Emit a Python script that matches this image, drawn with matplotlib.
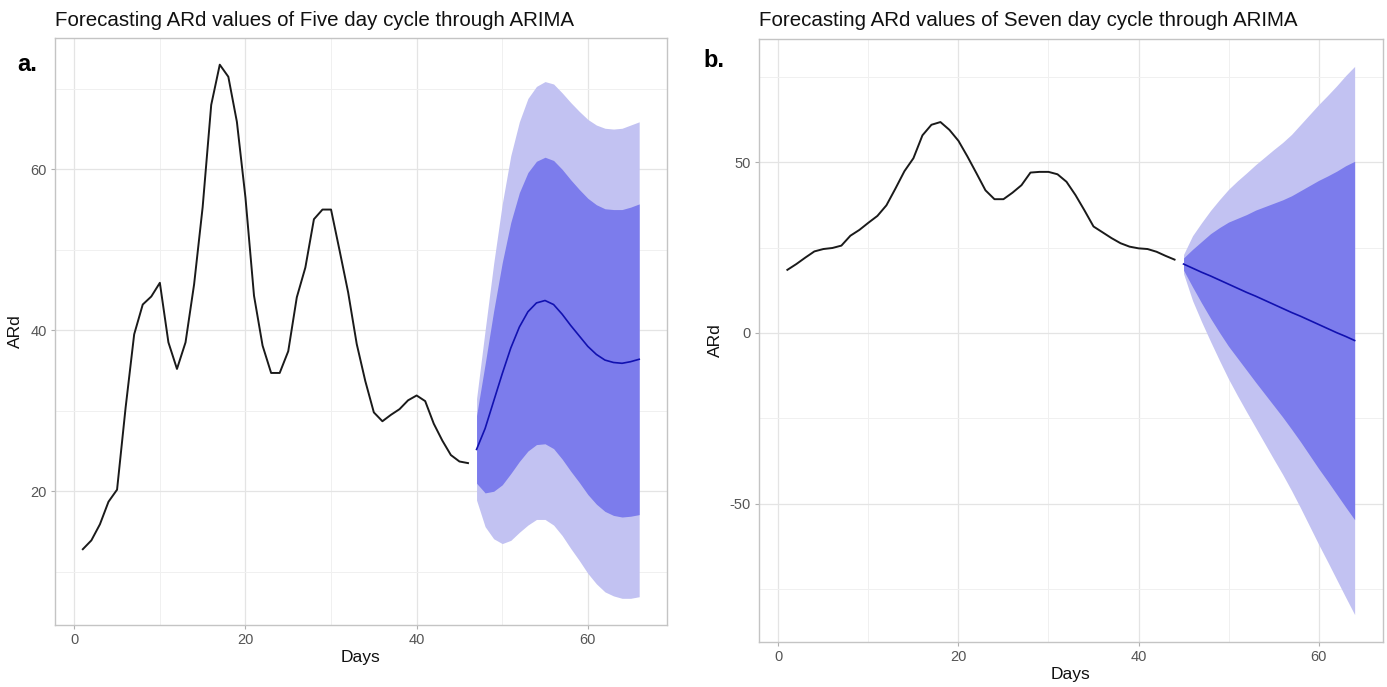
import matplotlib
matplotlib.use("Agg")
import matplotlib.pyplot as plt
from matplotlib.ticker import MultipleLocator

plt.rcParams['font.family'] = ['Liberation Sans', 'DejaVu Sans']
plt.rcParams['axes.unicode_minus'] = False

# ---- panel a: five day cycle ----
days_a = list(range(1, 47))
ard_a = [12.8, 13.9, 15.9, 18.7, 20.2, 30.4, 39.5, 43.2, 44.2, 45.9,
         38.5, 35.2, 38.5, 45.7, 55.3, 68.0, 73.0, 71.5, 65.9, 56.5,
         44.3, 38.1, 34.7, 34.7, 37.4, 44.1, 47.8, 53.8, 55.0, 55.0,
         49.9, 44.7, 38.3, 33.7, 29.8, 28.7, 29.5, 30.2, 31.3, 31.9,
         31.2, 28.4, 26.3, 24.5, 23.7, 23.5]
fc_days_a = list(range(47, 67))
fc_mean_a = [25.2, 27.8, 31.2, 34.6, 37.8, 40.4, 42.3, 43.4, 43.7, 43.2,
             42.0, 40.6, 39.3, 38.0, 37.0, 36.3, 36.0, 35.9, 36.1, 36.4]
hi80_a = [29.4, 35.8, 42.4, 48.4, 53.4, 57.1, 59.6, 61.0, 61.5, 61.1,
          60.0, 58.7, 57.5, 56.4, 55.6, 55.1, 55.0, 55.0, 55.3, 55.7]
lo80_a = [21.0, 19.8, 20.0, 20.8, 22.2, 23.7, 25.0, 25.8, 25.9, 25.3,
          24.0, 22.5, 21.1, 19.6, 18.4, 17.5, 17.0, 16.8, 16.9, 17.1]
hi95_a = [31.5, 40.0, 48.3, 55.7, 61.7, 65.9, 68.8, 70.3, 70.9, 70.6,
          69.5, 68.3, 67.2, 66.2, 65.5, 65.1, 65.0, 65.1, 65.5, 65.9]
lo95_a = [18.9, 15.6, 14.1, 13.5, 13.9, 14.9, 15.8, 16.5, 16.5, 15.8,
          14.5, 12.9, 11.4, 9.8, 8.5, 7.5, 7.0, 6.7, 6.7, 6.9]

# ---- panel b: seven day cycle ----
days_b = list(range(1, 45))
ard_b = [18.5, 20.2, 22.1, 23.9, 24.6, 24.9, 25.6, 28.5, 30.2, 32.3,
         34.3, 37.4, 42.3, 47.4, 51.2, 57.9, 61.0, 61.8, 59.5, 56.3,
         51.7, 46.8, 41.8, 39.2, 39.2, 41.1, 43.3, 47.0, 47.2, 47.2,
         46.5, 44.3, 40.4, 35.9, 31.2, 29.5, 27.8, 26.3, 25.3, 24.8,
         24.6, 23.8, 22.6, 21.5]
fc_days_b = list(range(45, 65))
fc_mean_b = [20.2, 19.0, 17.8, 16.7, 15.5, 14.3, 13.1, 11.9, 10.8, 9.6,
             8.4, 7.2, 6.0, 4.9, 3.7, 2.5, 1.3, 0.1, -1.0, -2.2]
hi80_b = [22.0, 24.5, 26.8, 29.1, 30.9, 32.5, 33.6, 34.7, 36.0, 37.0,
          38.0, 39.0, 40.2, 41.7, 43.2, 44.7, 46.0, 47.4, 49.0, 50.3]
lo80_b = [18.4, 13.5, 8.8, 4.3, 0.1, -3.9, -7.4, -10.9, -14.4, -17.8,
          -21.2, -24.6, -28.2, -31.9, -35.8, -39.7, -43.4, -47.2, -51.0, -54.7]
hi95_b = [23.0, 28.5, 32.3, 35.9, 39.1, 42.1, 44.6, 46.9, 49.3, 51.5,
          53.7, 55.8, 58.2, 61.1, 64.0, 66.9, 69.6, 72.4, 75.4, 78.1]
lo95_b = [17.4, 9.5, 3.3, -2.5, -8.1, -13.5, -18.4, -23.1, -27.7, -32.3,
          -36.9, -41.4, -46.2, -51.3, -56.6, -61.9, -67.0, -72.2, -77.4, -82.5]

W, H = 1387, 687
fig = plt.figure(figsize=(W / 100, H / 100), dpi=100)


def px_rect(left, top, right, bottom):
    return [left / W, 1 - bottom / H, (right - left) / W, (bottom - top) / H]


def draw_panel(ax, days, ard, fdays, fmean, lo80, hi80, lo95, hi95, yticks, ymin_step):
    ax.fill_between(fdays, lo95, hi95, color='#C2C2F2', linewidth=0, zorder=2)
    ax.fill_between(fdays, lo80, hi80, color='#7C7CEC', linewidth=0, zorder=3)
    ax.plot(fdays, fmean, color='#1111B0', linewidth=1.2, zorder=4)
    ax.plot(days, ard, color='#1a1a1a', linewidth=1.4, zorder=4)

    lo = min(min(lo95), min(ard))
    hi = max(max(hi95), max(ard))
    pad = (hi - lo) * 0.05
    ax.set_ylim(lo - pad, hi + pad)
    xlo, xhi = days[0], fdays[-1]
    xpad = (xhi - xlo) * 0.05
    ax.set_xlim(xlo - xpad, xhi + xpad)

    ax.set_xticks([0, 20, 40, 60])
    ax.set_yticks(yticks)
    ax.xaxis.set_minor_locator(MultipleLocator(10))
    ax.yaxis.set_minor_locator(MultipleLocator(ymin_step))
    ax.grid(which='major', color='#E4E4E4', linewidth=0.9, zorder=0)
    ax.grid(which='minor', color='#F0F0F0', linewidth=0.7, zorder=0)
    ax.set_axisbelow(True)
    for s in ax.spines.values():
        s.set_color('#C4C4C4')
        s.set_linewidth(1.0)
    ax.tick_params(which='major', length=3, width=0.8, color='#B0B0B0',
                   labelsize=10.5, labelcolor='#555555', pad=3)
    ax.tick_params(which='minor', length=0)
    ax.set_xlabel('Days', fontsize=12.5, color='#111111', labelpad=2)
    ax.set_ylabel('ARd', fontsize=12.5, color='#111111', labelpad=5)


ax1 = fig.add_axes(px_rect(55, 38, 667, 625))
draw_panel(ax1, days_a, ard_a, fc_days_a, fc_mean_a, lo80_a, hi80_a, lo95_a, hi95_a,
           [20, 40, 60], 10)

ax2 = fig.add_axes(px_rect(759, 39, 1383, 642))
draw_panel(ax2, days_b, ard_b, fc_days_b, fc_mean_b, lo80_b, hi80_b, lo95_b, hi95_b,
           [-50, 0, 50], 25)

fig.text(55 / W, 1 - 26 / H, 'Forecasting ARd values of Five day cycle through ARIMA',
         fontsize=14.8, color='#111111', ha='left', va='baseline')
fig.text(759 / W, 1 - 26 / H, 'Forecasting ARd values of Seven day cycle through ARIMA',
         fontsize=14.8, color='#111111', ha='left', va='baseline')

fig.text(17 / W, 1 - 71 / H, 'a.', fontsize=17, fontweight='bold', ha='left', va='baseline')
fig.text(703 / W, 1 - 67 / H, 'b.', fontsize=17, fontweight='bold', ha='left', va='baseline')

fig.savefig('out.png', dpi=100, facecolor='white')
